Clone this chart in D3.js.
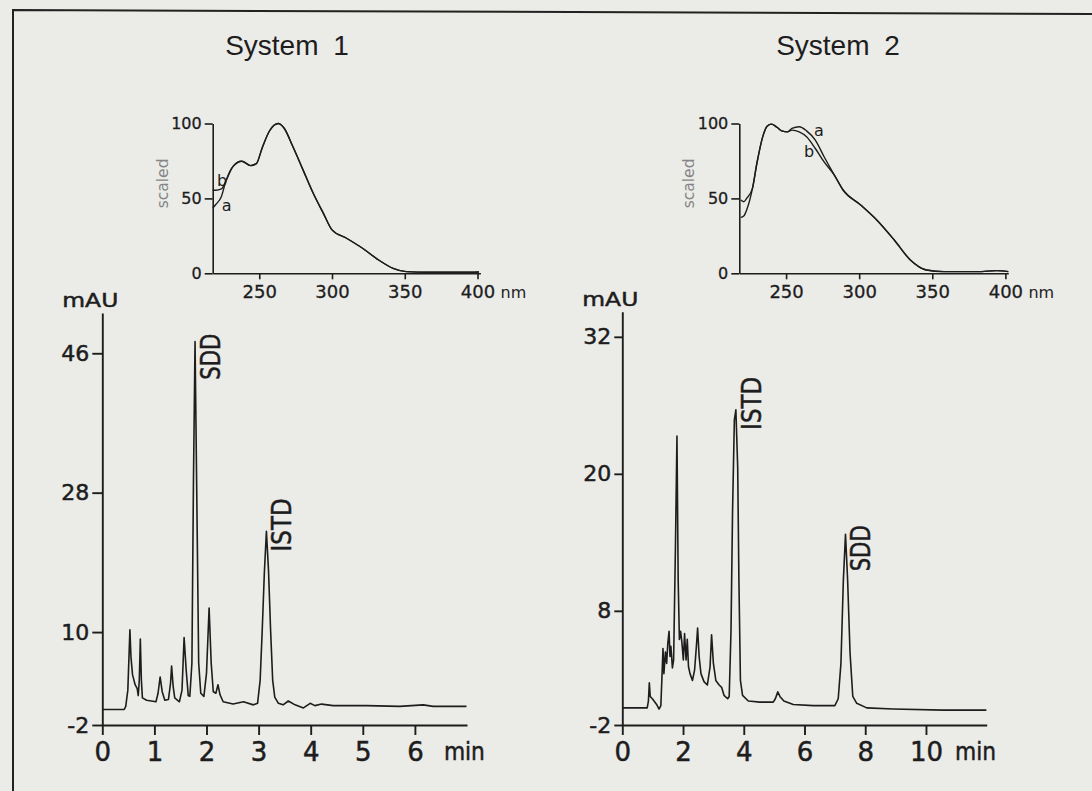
<!DOCTYPE html>
<html>
<head>
<meta charset="utf-8">
<script src="https://cdn.jsdelivr.net/npm/d3@7"></script>
<style>
	body { margin: 0; background: #ebebe8; }
	svg { display: block; }
	text { font-family: "DejaVu Sans", "Liberation Sans", Arial, sans-serif; fill: #1d1d1d; }
	text.title { font-family: "Liberation Sans", Arial, sans-serif; }
	.heavy text, text.heavy { stroke: #1d1d1d; stroke-width: 0.5px; }
	.domain, .tick line { stroke: #1d1d1d; stroke-width: 1.9px; }
</style>
</head>
<body>
<div id="plot"></div>
<script>
// chromatogram, system 1 (time in min, absorbance in mAU)
var sys1Time = [0, 0.42, 0.45, 0.49, 0.53, 0.55, 0.58, 0.63, 0.67, 0.69, 0.71, 0.73, 0.75, 0.77, 0.85, 1.03, 1.07, 1.11, 1.15, 1.20,
	1.27, 1.31, 1.33, 1.36, 1.39, 1.48, 1.53, 1.57, 1.61, 1.65, 1.68, 1.72, 1.75, 1.78, 1.81, 1.85, 1.89, 1.95, 2.00, 2.05,
	2.09, 2.13, 2.18, 2.22, 2.26, 2.32, 2.51, 2.71, 2.90, 2.98, 3.03, 3.07, 3.11, 3.15, 3.19, 3.23, 3.27, 3.31, 3.38, 3.47,
	3.57, 3.70, 3.86, 3.99, 4.08, 4.21, 4.43, 5.07, 5.71, 6.16, 6.35, 6.99];
var sys1Mau = [0, 0, 0.4, 2.5, 10.3, 6.8, 4.5, 3.2, 2.7, 1.8, 3.8, 9.1, 3.8, 1.5, 1.2, 1.0, 2.1, 4.2, 2.3, 1.2,
	1.3, 3.4, 5.6, 3.0, 1.5, 1.0, 2.5, 9.3, 5.1, 1.8, 1.7, 6.0, 29.7, 47.5, 29.7, 6.0, 2.1, 1.7, 4.7, 13.1,
	6.0, 2.3, 2.1, 3.2, 1.9, 1.0, 0.7, 1.0, 0.6, 0.8, 3.8, 10.3, 17.6, 23.0, 18.0, 10.3, 3.8, 1.6, 0.8, 0.6,
	1.1, 0.6, 0.2, 0.8, 0.5, 0.7, 0.5, 0.5, 0.4, 0.6, 0.4, 0.4];

// chromatogram, system 2
var sys2Time = [0, 0.82, 0.86, 0.89, 0.92, 0.99, 1.13, 1.21, 1.27, 1.31, 1.34, 1.37, 1.42, 1.46, 1.50, 1.54, 1.57, 1.60, 1.65, 1.69,
	1.75, 1.80, 1.84, 1.88, 1.92, 1.96, 2.01, 2.05, 2.10, 2.14, 2.18, 2.23, 2.31, 2.38, 2.44, 2.48, 2.53, 2.59, 2.69, 2.80,
	2.89, 2.94, 3.00, 3.08, 3.19, 3.27, 3.35, 3.47, 3.52, 3.58, 3.63, 3.69, 3.74, 3.80, 3.84, 3.89, 3.96, 4.15, 4.53, 4.97,
	5.04, 5.12, 5.19, 5.32, 5.63, 6.29, 6.73, 7.00, 7.11, 7.20, 7.28, 7.35, 7.42, 7.50, 7.59, 7.72, 8.05, 8.92, 10.57, 11.99];
var sys2Mau = [-0.5, -0.5, 0.1, 1.7, 0.5, 0.3, -0.2, -0.6, -0.3, 2.5, 4.7, 2.5, 4.4, 3.4, 5.2, 6.2, 4.0, 4.9, 3.0, 3.7,
	13.6, 23.3, 10.7, 5.5, 6.2, 5.3, 3.7, 6.0, 3.7, 5.5, 3.1, 2.5, 1.9, 2.8, 4.9, 6.5, 4.0, 2.5, 1.8, 1.5,
	3.1, 5.9, 3.4, 1.9, 1.5, 1.3, 0.6, 0.3, 0.5, 6.3, 16.6, 24.7, 25.6, 20.6, 10.7, 1.9, 0.6, 0.1, 0.0, 0.0,
	0.3, 0.9, 0.5, 0.1, -0.2, -0.3, -0.3, -0.3, 0.3, 3.4, 10.7, 14.7, 10.7, 4.3, 0.5, -0.1, -0.5, -0.6, -0.7, -0.7];

// named peaks
var peakNames1 = ["SDD", "ISTD"];
var peakTimes1 = [1.78, 3.15];
var peakTops1 = [47.5, 23.0];
var peakNames2 = ["ISTD", "SDD"];
var peakTimes2 = [3.74, 7.35];
var peakTops2 = [25.6, 14.7];

// uv spectra (scaled to 100), curves a and b
var spec1Nm = [218, 220, 224, 227, 232, 238, 244, 248, 252, 257, 263, 267, 273, 280, 287, 294, 300, 310, 321, 332, 342, 351, 367, 390, 401];
var spec1A = [43.5, 45.8, 51.3, 61.4, 71.4, 74.8, 71.9, 73.2, 83.7, 95, 100, 97, 84.8, 69.2, 53.6, 40.2, 29.0, 23.4, 16.7, 8.9, 3.3, 1.1, 0.7, 0.7, 0.9];
var spec1B = [55.8, 55.4, 56.3, 61.4, 71.4, 74.8, 71.9, 73.2, 83.7, 95, 100, 97, 84.8, 69.2, 53.6, 40.2, 29.0, 23.4, 16.7, 8.9, 3.3, 1.1, 0.7, 0.7, 0.9];
var spec2Nm = [219, 221, 223, 227, 230, 234, 237, 240, 244, 247, 251, 254, 259, 264, 270, 276, 283, 289, 301, 312, 324, 335, 346, 358, 381, 394, 402];
var spec2A = [37.3, 38.2, 42.2, 56.7, 73.3, 91.1, 98.2, 99.6, 97.3, 95.1, 94.4, 96.7, 97.8, 95.1, 88.9, 77.8, 65.6, 55.6, 45.6, 35.6, 22.2, 8.9, 2.2, 1.1, 1.1, 1.8, 1.1];
var spec2B = [48.9, 47.8, 50.0, 56.7, 73.3, 91.1, 98.2, 99.6, 97.3, 95.1, 94.4, 95.6, 94.4, 91.1, 83.3, 74.4, 65.6, 55.6, 45.6, 35.6, 22.2, 8.9, 2.2, 1.1, 1.1, 1.8, 1.1];

// where the a / b letters sit (nm, scaled)
var curveNames = ["a", "b"];
var spec1LabelNm = [227.6, 224.4];
var spec1LabelVal = [41.3, 58];
var spec2LabelNm = [272.5, 265.7];
var spec2LabelVal = [91.5, 77.7];

// tick labels
var sys1XTicks = [0, 1, 2, 3, 4, 5, 6];
var sys1YTicks = [-2, 10, 28, 46];
var sys2XTicks = [0, 2, 4, 6, 8, 10];
var sys2YTicks = [-2, 8, 20, 32];
var specXTicks = [250, 300, 350, 400];
var specYTicks = [0, 50, 100];

var svg = d3.select("#plot")
	.append("svg")
	.attr("width", 1092)
	.attr("height", 791);

svg.append("rect").attr("width", 1092).attr("height", 791).attr("fill", "#ebebe8");

//page frame of the scan
svg.append("path")
	.attr("d", "M13,791 L13,10 L1092,14")
	.attr("fill", "none")
	.attr("stroke", "#222")
	.attr("stroke-width", 2);

svg.append("text").attr("class", "title").attr("x", 287).attr("y", 55).attr("text-anchor", "middle")
	.attr("font-size", 28).style("word-spacing", "7px").text("System 1");
svg.append("text").attr("class", "title").attr("x", 838).attr("y", 55).attr("text-anchor", "middle")
	.attr("font-size", 28).style("word-spacing", "7px").text("System 2");

function plain(d) { return String(d); }

function chromatogram(cfg) {
	var x = d3.scaleLinear().domain([0, cfg.tMax]).range([cfg.left, cfg.right]);
	var y = d3.scaleLinear().domain([-2, cfg.vMax]).range([725, cfg.top]);
	var g = svg.append("g").attr("class", "heavy");

	//y axis
	g.append("g")
		.attr("transform", "translate(" + cfg.left + ",0)")
		.call(d3.axisLeft(y).tickValues(cfg.yTicks).tickSize(cfg.yTickLen).tickPadding(3).tickSizeOuter(0).tickFormat(plain))
		.attr("font-size", 22);

	//x axis
	g.append("g")
		.attr("transform", "translate(0,725)")
		.call(d3.axisBottom(x).tickValues(cfg.xTicks).tickSize(10).tickPadding(8).tickSizeOuter(0).tickFormat(plain))
		.attr("font-size", 26);

	g.append("text").attr("x", cfg.left - 12).attr("y", cfg.top - 6)
		.attr("text-anchor", "middle").attr("font-size", 20)
		.attr("textLength", 56).attr("lengthAdjust", "spacingAndGlyphs").text("mAU");
	g.append("text").attr("x", x(cfg.xTicks[cfg.xTicks.length - 1]) + 29).attr("y", 760)
		.attr("font-size", 24).attr("textLength", 41).attr("lengthAdjust", "spacingAndGlyphs").text("min");

	//trace
	var line = d3.line()
		.x(function (i) { return x(cfg.time[i]); })
		.y(function (i) { return y(cfg.mau[i]); });
	g.append("path")
		.datum(d3.range(cfg.time.length))
		.attr("d", line)
		.attr("fill", "none")
		.attr("stroke", "#1d1d1d")
		.attr("stroke-width", 1.6)
		.attr("stroke-linejoin", "round");

	//peak names, rotated
	cfg.names.forEach(function (name, i) {
		g.append("text")
			.attr("transform", "translate(" + (x(cfg.peakT[i]) + 25) + "," + (y(cfg.peakV[i]) + cfg.drop[i]) + ") rotate(-90)")
			.attr("font-size", 26)
			.attr("textLength", name == "SDD" ? 46 : 53)
			.attr("lengthAdjust", "spacingAndGlyphs")
			.text(name);
	});
}

function spectrum(cfg) {
	var x = d3.scaleLinear().domain([218, 402]).range([cfg.left, cfg.left + 184 * cfg.pxPerNm]);
	var y = d3.scaleLinear().domain([0, 100]).range([273.3, 123.5]);
	var g = svg.append("g");

	g.append("g")
		.attr("transform", "translate(" + cfg.left + ",0)")
		.call(d3.axisLeft(y).tickValues(specYTicks).tickSize(8).tickPadding(3).tickSizeOuter(0))
		.attr("font-size", 16);

	g.append("g")
		.attr("transform", "translate(0," + y(0) + ")")
		.call(d3.axisBottom(x).tickValues(specXTicks).tickSize(6).tickPadding(6).tickSizeOuter(0))
		.attr("font-size", 18);

	g.selectAll(".domain, .tick line").style("stroke-width", "1.6px");
	g.selectAll(".tick text").style("stroke", "#1d1d1d").style("stroke-width", "0.3px");

	g.append("text").attr("x", x(400) + 23).attr("y", 298).attr("font-size", 16).text("nm");
	g.append("text")
		.attr("transform", "translate(" + (cfg.left - 45) + "," + y(60) + ") rotate(-90)")
		.attr("text-anchor", "middle").attr("font-size", 15.5)
		.style("fill", "#858585").text("scaled");

	[cfg.a, cfg.b].forEach(function (vals) {
		var line = d3.line()
			.curve(d3.curveMonotoneX)
			.x(function (i) { return x(cfg.nm[i]); })
			.y(function (i) { return y(vals[i]); });
		g.append("path")
			.datum(d3.range(cfg.nm.length))
			.attr("d", line)
			.attr("fill", "none")
			.attr("stroke", "#1d1d1d")
			.attr("stroke-width", 1.4);
	});

	curveNames.forEach(function (name, i) {
		g.append("text").attr("x", x(cfg.labelNm[i])).attr("y", y(cfg.labelVal[i]))
			.attr("text-anchor", "middle").attr("font-size", 16).text(name);
	});
}

spectrum({ left: 212.7, pxPerNm: 1.455, nm: spec1Nm, a: spec1A, b: spec1B, labelNm: spec1LabelNm, labelVal: spec1LabelVal });
spectrum({ left: 739.3, pxPerNm: 1.462, nm: spec2Nm, a: spec2A, b: spec2B, labelNm: spec2LabelNm, labelVal: spec2LabelVal });

chromatogram({
	left: 102.3, right: 467, tMax: 7, top: 313, vMax: 51.2,
	xTicks: sys1XTicks, yTicks: sys1YTicks, yTickLen: 10,
	time: sys1Time, mau: sys1Mau,
	names: peakNames1, peakT: peakTimes1, peakV: peakTops1, drop: [38, 20]
});
chromatogram({
	left: 622.3, right: 986.7, tMax: 12, top: 311.7, vMax: 34.2,
	xTicks: sys2XTicks, yTicks: sys2YTicks, yTickLen: 8,
	time: sys2Time, mau: sys2Mau,
	names: peakNames2, peakT: peakTimes2, peakV: peakTops2, drop: [20, 37]
});
</script>
</body>
</html>
